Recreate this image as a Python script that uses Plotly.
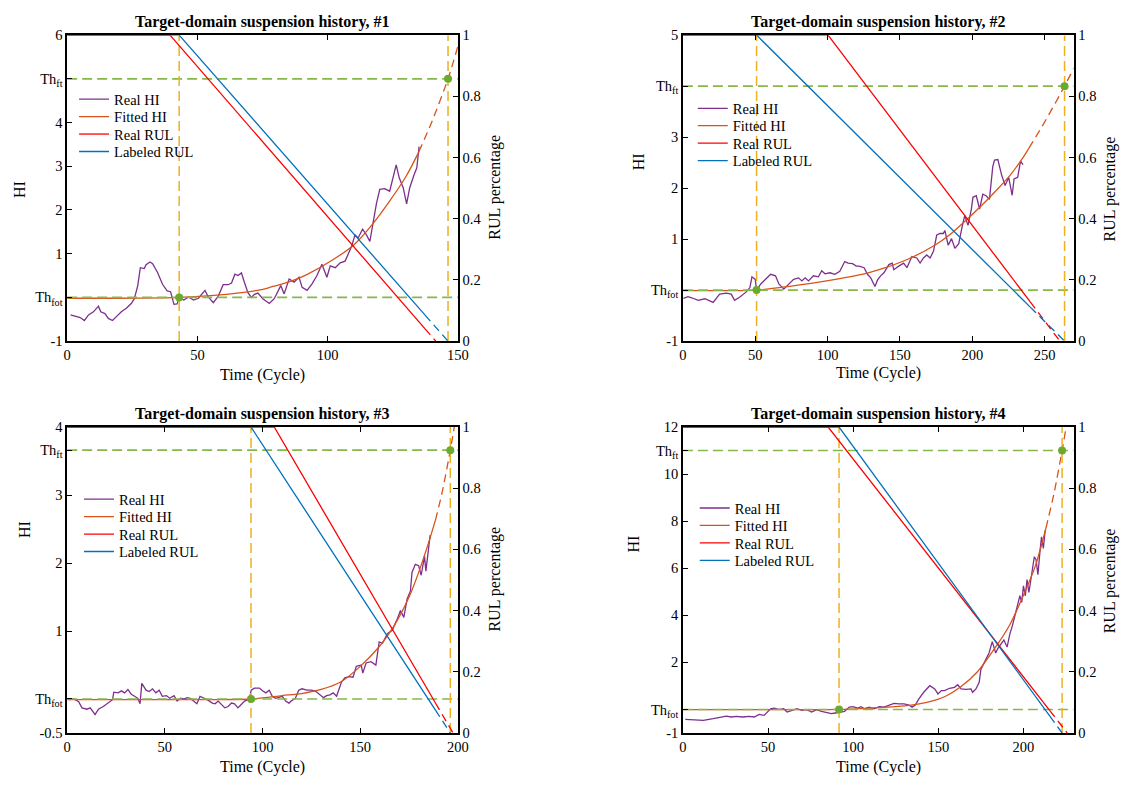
import plotly.graph_objects as go

FONT = "Liberation Serif"
W, H = 1135, 789

PURPLE = "#7E2F8E"
ORANGE = "#D95319"
RED = "#FF0000"
BLUE = "#0072BD"
GREEN_LINE = "#86B84A"
GREEN_DOT = "#6BAA2F"
YELLOW = "#EDB120"

TITLES = ["Target-domain suspension history, #1", "Target-domain suspension history, #2",
          "Target-domain suspension history, #3", "Target-domain suspension history, #4"]
LEGEND_NAMES = ["Real HI", "Fitted HI", "Real RUL", "Labeled RUL"]
RUL_TICKS = [0, 0.2, 0.4, 0.6, 0.8, 1]
RUL_TICKTEXT = ["0", "0.2", "0.4", "0.6", "0.8", "1"]

# ---------------- Panel 1 ----------------
p1_hi_t = [1.3, 5.0, 6.6, 8.2, 10.1, 12.0, 12.9, 14.5, 15.8, 17.4,
           18.9, 20.8, 22.7, 24.6, 25.8, 27.1, 28.1, 29.6, 30.3, 31.8,
           32.8, 34.7, 36.6, 38.4, 39.7, 41.0, 42.2, 43.1, 44.8, 46.6,
           48.5, 50.4, 52.9, 54.2, 56.1, 58.0, 59.9, 61.8, 63.1, 64.4,
           65.6, 66.9, 67.9, 69.4, 70.7, 71.9, 73.2, 75.1, 77.6, 79.5,
           82.0, 83.3, 85.2, 87.1, 89.0, 90.2, 92.1, 94.0, 95.9, 97.8,
           99.7, 101.0, 102.9, 104.8, 106.7, 107.9, 109.2, 110.5, 111.7, 113.4,
           114.9, 116.2, 117.4, 118.7, 120.0, 121.9, 123.8, 125.0, 126.3, 127.5,
           129.0, 130.3, 131.5, 133.2, 134.2, 135.1]
p1_hi_v = [-0.40, -0.46, -0.53, -0.40, -0.33, -0.20, -0.33, -0.37, -0.48, -0.53,
           -0.44, -0.33, -0.25, -0.14, -0.03, 0.27, 0.68, 0.66, 0.75, 0.81,
           0.77, 0.57, 0.30, 0.15, 0.13, -0.16, -0.15, 0.00, -0.06, 0.01,
           -0.06, -0.02, 0.16, 0.01, -0.12, 0.03, 0.29, 0.29, 0.33, 0.53,
           0.50, 0.56, 0.37, 0.11, 0.00, 0.07, 0.10, -0.03, -0.14, -0.03,
           0.27, 0.08, 0.42, 0.35, 0.46, 0.23, 0.16, 0.31, 0.50, 0.76,
           0.46, 0.72, 0.68, 0.79, 0.83, 0.98, 1.17, 1.43, 1.36, 1.56,
           1.43, 1.28, 1.69, 2.14, 2.47, 2.49, 2.43, 2.70, 3.03, 2.73,
           2.51, 2.14, 2.51, 2.81, 2.96, 3.45]
p1_fit_t = [0, 20, 43, 55, 67, 74, 79, 86, 92, 102, 110, 117, 123.5, 130, 135]
p1_fit_v = [-0.02, -0.02, 0.0, 0.04, 0.11, 0.17, 0.25, 0.37, 0.52, 0.86, 1.2, 1.66, 2.18, 2.76, 3.33]
p1_fitx_t = [135, 140, 146.2, 150]
p1_fitx_v = [3.33, 4.02, 5.0, 5.75]
p1_real_t = [0, 39.5, 137.4]
p1_real_v = [1, 1, 0.040]
p1_realx_t = [137.4, 141.5]
p1_realx_v = [0.040, 0]
p1_lab_t = [0, 43.0, 137.4]
p1_lab_v = [1, 1, 0.085]
p1_labx_t = [137.4, 146.2]
p1_labx_v = [0.085, 0]
p1_fot, p1_fail, p1_thft = 43.0, 146.2, 5.0
p1_xticks = [0, 50, 100, 150]
p1_yticks = [-1, 0, 1, 2, 3, 4, 5, 6]
p1_yticktext = ["-1", "Th<sub>fot</sub>", "1", "2", "3", "4", "Th<sub>ft</sub>", "6"]

# ---------------- Panel 2 ----------------
p2_hi_t = [0.3, 3.5, 6.1, 10.6, 15.2, 20.9, 25.4, 30.0, 33.4, 35.7,
           39.1, 43.6, 46.3, 47.7, 50.0, 50.9, 53.8, 57.2, 60.6, 64.0,
           66.3, 69.7, 73.1, 76.5, 79.9, 82.2, 84.5, 86.8, 90.2, 93.6,
           95.9, 98.2, 101.6, 105.0, 108.4, 111.8, 114.1, 117.2, 119.8, 121.8,
           125.2, 127.5, 129.8, 131.5, 132.7, 134.5, 136.6, 138.9, 142.3, 144.6,
           145.7, 149.1, 152.5, 154.8, 158.2, 161.6, 163.9, 166.2, 168.5, 170.8,
           173.1, 175.4, 177.6, 179.9, 181.0, 183.3, 185.6, 187.9, 190.6, 192.9,
           194.7, 197.0, 199.3, 200.4, 202.7, 205.0, 207.2, 209.5, 211.8, 214.1,
           215.3, 217.6, 220.1, 222.6, 225.1, 227.5, 228.8, 231.3, 233.3, 235.0]
p2_hi_v = [-0.16, -0.13, -0.15, -0.20, -0.17, -0.24, -0.08, -0.06, -0.08, -0.20,
           -0.14, -0.04, 0.05, 0.26, 0.21, 0.00, 0.12, 0.21, 0.31, 0.28,
           0.12, 0.02, 0.12, 0.21, 0.24, 0.18, 0.24, 0.18, 0.28, 0.26,
           0.38, 0.32, 0.34, 0.31, 0.37, 0.56, 0.53, 0.52, 0.47, 0.47,
           0.44, 0.31, 0.24, 0.15, 0.07, 0.20, 0.28, 0.34, 0.50, 0.53,
           0.40, 0.47, 0.53, 0.44, 0.66, 0.63, 0.53, 0.63, 0.69, 0.63,
           0.76, 1.08, 1.11, 1.11, 1.17, 0.88, 1.01, 0.82, 0.91, 1.24,
           1.46, 1.27, 1.59, 1.82, 1.85, 1.59, 1.88, 1.85, 1.78, 2.42,
           2.55, 2.56, 2.27, 2.05, 2.21, 1.86, 2.18, 2.21, 2.53, 2.46]
p2_fit_t = [0, 30, 50.9, 75, 95, 113, 128, 140, 155, 174, 185, 195.6, 206, 216, 226, 235, 239]
p2_fit_v = [-0.01, -0.01, 0.0, 0.08, 0.16, 0.25, 0.34, 0.44, 0.6, 0.88, 1.1, 1.37, 1.65, 1.94, 2.25, 2.6, 2.78]
p2_fitx_t = [239, 250, 263.7, 270]
p2_fitx_v = [2.78, 3.3, 4.0, 4.35]
p2_real_t = [0, 100.3, 240]
p2_real_v = [1, 1, 0.128]
p2_realx_t = [240, 260.5]
p2_realx_v = [0.128, 0]
p2_lab_t = [0, 50.9, 240]
p2_lab_v = [1, 1, 0.111]
p2_labx_t = [240, 263.7]
p2_labx_v = [0.111, 0]
p2_fot, p2_fail, p2_thft = 50.9, 263.7, 4.0
p2_xticks = [0, 50, 100, 150, 200, 250]
p2_yticks = [-1, 0, 1, 2, 3, 4, 5]
p2_yticktext = ["-1", "Th<sub>fot</sub>", "1", "2", "3", "Th<sub>ft</sub>", "5"]

# ---------------- Panel 3 ----------------
p3_hi_t = [0.9, 3.4, 5.9, 7.6, 10.1, 11.8, 14.3, 16.0, 18.5, 21.0,
           23.2, 23.9, 26.1, 27.8, 29.4, 31.1, 32.8, 34.5, 36.2, 37.3,
           38.2, 40.4, 42.0, 43.7, 45.4, 47.1, 48.7, 50.8, 52.5, 54.7,
           56.3, 58.0, 59.7, 61.4, 63.0, 64.7, 66.4, 68.0, 70.2, 72.3,
           74.3, 75.7, 77.3, 79.0, 80.7, 82.4, 84.1, 85.7, 87.4, 89.1,
           90.8, 93.3, 94.2, 95.8, 98.4, 100.0, 101.7, 103.4, 105.0, 106.7,
           108.4, 110.1, 111.8, 113.5, 115.1, 116.8, 118.5, 120.2, 122.7, 125.2,
           127.4, 129.5, 131.2, 132.8, 134.5, 136.2, 137.9, 140.4, 142.1, 144.3,
           146.3, 148.0, 150.5, 151.3, 153.0, 155.5, 158.0, 159.7, 161.4, 163.9,
           166.4, 169.0, 170.6, 172.3, 174.0, 175.7, 176.5, 178.2, 179.9, 181.2,
           182.9, 183.6, 184.9, 185.8]
p3_hi_v = [-0.01, 0.00, -0.04, -0.13, -0.15, -0.13, -0.23, -0.15, -0.11, -0.06,
           -0.01, 0.10, 0.09, 0.12, 0.09, 0.14, 0.07, 0.04, 0.01, -0.07,
           0.23, 0.13, 0.11, 0.15, 0.09, 0.13, 0.04, 0.05, 0.01, 0.05,
           -0.03, 0.01, 0.00, 0.02, 0.01, -0.03, -0.07, 0.04, 0.01, -0.02,
           -0.06, -0.07, -0.03, -0.08, -0.13, -0.11, -0.06, -0.07, -0.13, -0.08,
           -0.03, 0.00, 0.13, 0.16, 0.16, 0.12, 0.09, 0.13, 0.04, 0.01,
           0.02, 0.04, -0.03, -0.06, -0.02, 0.01, 0.13, 0.15, 0.13, 0.13,
           0.11, 0.06, 0.02, 0.05, 0.06, 0.09, 0.04, 0.25, 0.31, 0.33,
           0.32, 0.48, 0.50, 0.38, 0.53, 0.55, 0.50, 0.84, 0.82, 0.96,
           1.01, 1.18, 1.30, 1.20, 1.47, 1.59, 1.86, 1.98, 1.96, 1.82,
           2.10, 1.88, 2.19, 2.41]
p3_fit_t = [0, 50, 94.1, 110, 120, 130, 140, 150, 160, 167, 175, 180, 185, 188.5]
p3_fit_v = [-0.01, -0.01, 0.0, 0.05, 0.08, 0.14, 0.25, 0.48, 0.78, 1.06, 1.5, 1.87, 2.3, 2.63]
p3_fitx_t = [188.5, 192, 196.1, 199]
p3_fitx_v = [2.63, 3.05, 3.66, 4.15]
p3_real_t = [0, 106.0, 188.5]
p3_real_v = [1, 1, 0.098]
p3_realx_t = [188.5, 197.5]
p3_realx_v = [0.098, 0]
p3_lab_t = [0, 94.1, 188.5]
p3_lab_v = [1, 1, 0.075]
p3_labx_t = [188.5, 196.1]
p3_labx_v = [0.075, 0]
p3_fot, p3_fail, p3_thft = 94.1, 196.1, 3.66
p3_xticks = [0, 50, 100, 150, 200]
p3_yticks = [-0.5, 0, 1, 2, 3, 3.66, 4]
p3_yticktext = ["-0.5", "Th<sub>fot</sub>", "1", "2", "3", "Th<sub>ft</sub>", "4"]

# ---------------- Panel 4 ----------------
p4_hi_t = [1.4, 6.2, 12.0, 17.8, 21.6, 25.5, 28.4, 31.3, 35.1, 39.0,
           41.9, 44.8, 47.7, 49.6, 51.5, 53.5, 56.4, 59.2, 61.2, 64.1,
           67.0, 69.9, 72.8, 75.6, 78.5, 81.4, 84.3, 87.2, 89.5, 92.0,
           94.9, 97.8, 99.8, 102.7, 104.6, 106.5, 109.4, 112.3, 115.2, 118.1,
           121.0, 124.0, 126.9, 129.8, 132.7, 134.6, 136.5, 138.5, 141.3, 143.0,
           145.0, 147.9, 149.8, 151.8, 153.7, 156.6, 159.5, 161.4, 163.4, 166.3,
           169.2, 170.1, 172.1, 174.0, 175.0, 176.9, 179.8, 181.7, 183.7, 185.0,
           186.6, 188.5, 190.4, 192.0, 193.6, 195.8, 197.9, 199.0, 200.0, 201.1,
           202.1, 203.2, 205.3, 206.4, 207.4, 208.5, 209.6, 210.6, 211.7, 212.7]
p4_hi_v = [-0.42, -0.43, -0.46, -0.39, -0.35, -0.28, -0.32, -0.29, -0.32, -0.29,
           -0.32, -0.21, -0.25, -0.11, 0.03, 0.06, 0.00, 0.03, -0.11, -0.04,
           0.03, -0.04, -0.01, -0.11, -0.01, -0.08, -0.14, -0.18, -0.15, -0.11,
           -0.08, 0.10, 0.12, 0.06, 0.12, 0.03, 0.10, 0.03, 0.12, 0.10,
           0.19, 0.26, 0.24, 0.24, 0.19, 0.10, 0.19, 0.44, 0.72, 0.86,
           1.01, 0.87, 0.66, 0.80, 0.80, 0.90, 0.94, 1.05, 0.87, 0.85,
           0.87, 0.73, 0.87, 1.15, 1.70, 1.98, 2.40, 2.88, 2.40, 2.60,
           2.75, 2.95, 2.65, 3.20, 3.58, 4.27, 4.83, 4.55, 5.25, 4.83,
           5.52, 4.97, 5.94, 6.49, 6.36, 5.73, 6.63, 7.33, 6.84, 7.60]
p4_fit_t = [0, 50, 91.7, 110, 125, 134, 145, 154, 163, 173, 183, 192, 200, 207, 213.2]
p4_fit_v = [-0.01, -0.01, 0.0, 0.06, 0.12, 0.18, 0.33, 0.55, 0.95, 1.6, 2.58, 3.6, 4.85, 6.1, 7.7]
p4_fitx_t = [213.2, 218, 222.7, 226.5]
p4_fitx_v = [7.7, 9.2, 11.0, 12.6]
p4_real_t = [0, 85.3, 215.5]
p4_real_v = [1, 1, 0.073]
p4_realx_t = [215.5, 225.7]
p4_realx_v = [0.073, 0]
p4_lab_t = [0, 91.7, 215.5]
p4_lab_v = [1, 1, 0.055]
p4_labx_t = [215.5, 222.7]
p4_labx_v = [0.055, 0]
p4_fot, p4_fail, p4_thft = 91.7, 222.7, 11.0
p4_xticks = [0, 50, 100, 150, 200]
p4_yticks = [-1, 0, 2, 4, 6, 8, 10, 11, 12]
p4_yticktext = ["-1", "Th<sub>fot</sub>", "2", "4", "6", "8", "10", "Th<sub>ft</sub>", "12"]

# axis ranges
x_ranges = [[0, 150], [0, 270], [0, 200], [0, 229.5]]
y_ranges = [[-1, 6], [-1, 5], [-0.5, 4], [-1, 12]]

# ---------------- layout geometry (pixels) ----------------
box_px = [(64, 460, 27.7, 340), (688, 1084, 27.7, 340),
          (64, 460, 427.7, 740), (688, 1084, 427.7, 740)]
legend_x_px = [71, 698, 76, 700]          # legend left edge
legend_row_px = [92.7, 102, 501, 510]     # first legend row centre
LEGEND_ROW_GAP = 17.8
LEGEND_ROW_OFFSET = 15.9                   # plotly: legend top -> first row centre
xlabel_px = [(262, 375), (886, 373), (262, 775), (886, 775)]
hilabel_px = [(15, 185), (643, 157), (20, 532), (638, 547)]
rullabel_px = [(498, 183), (1121, 185), (498, 583), (1121, 585)]


def px(x):
    return x / W


def py(y):
    return 1 - y / H


panels = [
    dict(hi_t=p1_hi_t, hi_v=p1_hi_v, fit_t=p1_fit_t, fit_v=p1_fit_v, fitx_t=p1_fitx_t, fitx_v=p1_fitx_v,
         real_t=p1_real_t, real_v=p1_real_v, realx_t=p1_realx_t, realx_v=p1_realx_v,
         lab_t=p1_lab_t, lab_v=p1_lab_v, labx_t=p1_labx_t, labx_v=p1_labx_v,
         fot=p1_fot, fail=p1_fail, thft=p1_thft, xticks=p1_xticks, yticks=p1_yticks, ytext=p1_yticktext),
    dict(hi_t=p2_hi_t, hi_v=p2_hi_v, fit_t=p2_fit_t, fit_v=p2_fit_v, fitx_t=p2_fitx_t, fitx_v=p2_fitx_v,
         real_t=p2_real_t, real_v=p2_real_v, realx_t=p2_realx_t, realx_v=p2_realx_v,
         lab_t=p2_lab_t, lab_v=p2_lab_v, labx_t=p2_labx_t, labx_v=p2_labx_v,
         fot=p2_fot, fail=p2_fail, thft=p2_thft, xticks=p2_xticks, yticks=p2_yticks, ytext=p2_yticktext),
    dict(hi_t=p3_hi_t, hi_v=p3_hi_v, fit_t=p3_fit_t, fit_v=p3_fit_v, fitx_t=p3_fitx_t, fitx_v=p3_fitx_v,
         real_t=p3_real_t, real_v=p3_real_v, realx_t=p3_realx_t, realx_v=p3_realx_v,
         lab_t=p3_lab_t, lab_v=p3_lab_v, labx_t=p3_labx_t, labx_v=p3_labx_v,
         fot=p3_fot, fail=p3_fail, thft=p3_thft, xticks=p3_xticks, yticks=p3_yticks, ytext=p3_yticktext),
    dict(hi_t=p4_hi_t, hi_v=p4_hi_v, fit_t=p4_fit_t, fit_v=p4_fit_v, fitx_t=p4_fitx_t, fitx_v=p4_fitx_v,
         real_t=p4_real_t, real_v=p4_real_v, realx_t=p4_realx_t, realx_v=p4_realx_v,
         lab_t=p4_lab_t, lab_v=p4_lab_v, labx_t=p4_labx_t, labx_v=p4_labx_v,
         fot=p4_fot, fail=p4_fail, thft=p4_thft, xticks=p4_xticks, yticks=p4_yticks, ytext=p4_yticktext),
]

DASH = "8px,5px"
TH_DASH = "10px,5px"

fig = go.Figure()
layout = dict(width=W, height=H, margin=dict(l=0, r=0, t=0, b=0), autosize=False,
              paper_bgcolor="white", plot_bgcolor="white", showlegend=True,
              font=dict(family=FONT, color="black"))
annotations = []


def legend_key(n):
    return "legend" if n == 1 else f"legend{n}"


for i, p in enumerate(panels):
    k = i + 1
    xa = "x" if k == 1 else f"x{k}"
    yl_n, yr_n = 2 * k - 1, 2 * k
    yl = "y" if yl_n == 1 else f"y{yl_n}"
    yr = f"y{yr_n}"
    lgs = [legend_key(4 * i + j + 1) for j in range(4)]
    x0, x1, top, bot = box_px[i]
    xr, yrg = x_ranges[i], y_ranges[i]

    # data traces
    fig.add_trace(go.Scatter(x=p["hi_t"], y=p["hi_v"], xaxis=xa, yaxis=yl, mode="lines",
                             line=dict(color=PURPLE, width=1.3), name=LEGEND_NAMES[0], legend=lgs[0]))
    fig.add_trace(go.Scatter(x=p["fit_t"], y=p["fit_v"], xaxis=xa, yaxis=yl, mode="lines",
                             line=dict(color=ORANGE, width=1.3, shape="spline", smoothing=0.8),
                             name=LEGEND_NAMES[1], legend=lgs[1]))
    fig.add_trace(go.Scatter(x=p["fitx_t"], y=p["fitx_v"], xaxis=xa, yaxis=yl, mode="lines",
                             line=dict(color=ORANGE, width=1.3, dash=DASH, shape="spline", smoothing=0.8),
                             showlegend=False, legend=lgs[1]))
    fig.add_trace(go.Scatter(x=p["real_t"], y=p["real_v"], xaxis=xa, yaxis=yr, mode="lines",
                             line=dict(color=RED, width=1.3), name=LEGEND_NAMES[2], legend=lgs[2]))
    fig.add_trace(go.Scatter(x=p["realx_t"], y=p["realx_v"], xaxis=xa, yaxis=yr, mode="lines",
                             line=dict(color=RED, width=1.3, dash=DASH), showlegend=False, legend=lgs[2]))
    fig.add_trace(go.Scatter(x=p["lab_t"], y=p["lab_v"], xaxis=xa, yaxis=yr, mode="lines",
                             line=dict(color=BLUE, width=1.3), name=LEGEND_NAMES[3], legend=lgs[3]))
    fig.add_trace(go.Scatter(x=p["labx_t"], y=p["labx_v"], xaxis=xa, yaxis=yr, mode="lines",
                             line=dict(color=BLUE, width=1.3, dash=DASH), showlegend=False, legend=lgs[3]))
    # threshold lines
    for yv in (0, p["thft"]):
        fig.add_trace(go.Scatter(x=[xr[0], xr[1]], y=[yv, yv], xaxis=xa, yaxis=yl, mode="lines",
                                 line=dict(color=GREEN_LINE, width=1.6, dash=TH_DASH),
                                 showlegend=False, legend=lgs[0], hoverinfo="skip"))
    for xv in (p["fot"], p["fail"]):
        fig.add_trace(go.Scatter(x=[xv, xv], y=[yrg[0], yrg[1]], xaxis=xa, yaxis=yl, mode="lines",
                                 line=dict(color=YELLOW, width=1.5, dash=TH_DASH),
                                 showlegend=False, legend=lgs[0], hoverinfo="skip"))
    fig.add_trace(go.Scatter(x=[p["fot"], p["fail"]], y=[0, p["thft"]], xaxis=xa, yaxis=yl, mode="markers",
                             marker=dict(color=GREEN_DOT, size=8), showlegend=False, legend=lgs[0]))

    xdom = [px(x0), px(x1)]
    ydom = [py(bot), py(top)]
    tickfont = dict(family=FONT, size=14.5, color="black")
    xkey = "xaxis" if k == 1 else f"xaxis{k}"
    ylkey = "yaxis" if yl_n == 1 else f"yaxis{yl_n}"
    yrkey = f"yaxis{yr_n}"
    layout[xkey] = dict(domain=xdom, anchor=yl, range=xr, tickvals=p["xticks"],
                        ticktext=[str(t) for t in p["xticks"]], ticks="inside", ticklen=5,
                        tickcolor="black", showline=True, linecolor="black", linewidth=1.5,
                        mirror="ticks", showgrid=False, zeroline=False, tickfont=tickfont)
    layout[ylkey] = dict(domain=ydom, anchor=xa, range=yrg, tickvals=p["yticks"], ticktext=p["ytext"],
                         ticks="inside", ticklen=5, tickcolor="black", showline=True, linecolor="black",
                         linewidth=1.5, showgrid=False, zeroline=False, tickfont=tickfont)
    layout[yrkey] = dict(overlaying=yl, anchor=xa, side="right", range=[0, 1], tickvals=RUL_TICKS,
                         ticktext=RUL_TICKTEXT, ticks="inside", ticklen=5, tickcolor="black",
                         showline=True, linecolor="black", linewidth=1.5, showgrid=False,
                         zeroline=False, tickfont=tickfont)
    for j in range(4):
        row_c = legend_row_px[i] + j * LEGEND_ROW_GAP
        layout[lgs[j]] = dict(x=px(legend_x_px[i]), y=py(row_c - LEGEND_ROW_OFFSET),
                              xanchor="left", yanchor="top", bgcolor="rgba(0,0,0,0)",
                              font=dict(family=FONT, size=14.5, color="black"), borderwidth=0)

    annotations.append(dict(text="<b>" + TITLES[i] + "</b>", x=px((x0 + x1) / 2), y=py(top - 13),
                            xref="paper", yref="paper", xanchor="center", yanchor="middle",
                            showarrow=False, font=dict(family=FONT, size=16, color="black")))
    ax, ay = xlabel_px[i]
    annotations.append(dict(text="Time (Cycle)", x=px(ax), y=py(ay), xref="paper", yref="paper",
                            xanchor="center", yanchor="middle", showarrow=False,
                            font=dict(family=FONT, size=16, color="black")))
    hx, hy = hilabel_px[i]
    annotations.append(dict(text="HI", x=px(hx), y=py(hy), xref="paper", yref="paper",
                            xanchor="center", yanchor="middle", textangle=-90, showarrow=False,
                            font=dict(family=FONT, size=16, color="black")))
    rx, ry = rullabel_px[i]
    annotations.append(dict(text="RUL percentage", x=px(rx), y=py(ry), xref="paper", yref="paper",
                            xanchor="center", yanchor="middle", textangle=-90, showarrow=False,
                            font=dict(family=FONT, size=16, color="black")))

layout["annotations"] = annotations
fig.update_layout(**layout)
fig.write_html("out.html", config={"displayModeBar": False},
               post_script="document.body.style.margin='0';document.body.style.overflow='hidden';")
